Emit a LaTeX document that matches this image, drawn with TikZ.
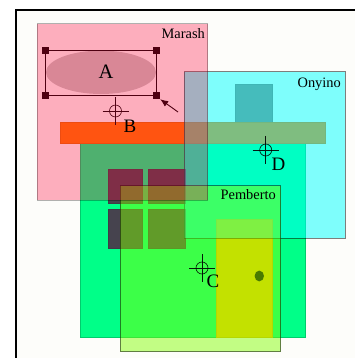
\documentclass[tikz,border=0pt]{standalone}
\usepackage{fontspec}
\setmainfont{Liberation Serif}
\usetikzlibrary{arrows.meta}

\definecolor{canvas}{RGB}{253,253,250}
\definecolor{wall}{RGB}{0,255,136}
\definecolor{roof}{RGB}{255,123,0}
\definecolor{chimney}{RGB}{140,122,122}
\definecolor{pane}{RGB}{70,67,78}
\definecolor{door}{RGB}{255,200,0}
\definecolor{knob}{RGB}{25,5,0}
\definecolor{blob}{RGB}{200,196,193}
\definecolor{marash}{RGB}{255,0,56}
\definecolor{onyino}{RGB}{0,255,255}
\definecolor{pemberto}{RGB}{128,255,0}

\tikzset{
  part/.style={line width=0.6pt},
  layer/.style={line width=1pt, draw=black, draw opacity=0.5},
  handle/.style={fill=black, minimum size=7pt, inner sep=0pt},
  tag/.style={inner sep=0pt, font=\fontsize{14.4}{16}\selectfont},
  letter/.style={inner sep=0pt, font=\fontsize{19}{22}\selectfont},
  target/.pic={
    \draw[line width=0.65pt] (0,0) circle (6pt);
    \draw[line width=0.65pt] (-13,0) -- (13,0) (0,-14) -- (0,14);
  }
}

\begin{document}
\begin{tikzpicture}[x=1pt, y=-1pt]
  \useasboundingbox (0,0) rectangle (355,358);
  \clip (0,0) rectangle (355,358);
  % canvas
  \filldraw[fill=canvas, draw=black, line width=1.5pt] (16,10) rectangle (380,380);

  % house
  \filldraw[part, fill=wall, draw=wall!80!black] (80.7,143.3) rectangle (305,337.3);
  \filldraw[part, fill=chimney, draw=chimney!90!black] (235.7,84.3) rectangle (272.3,122.3);
  \filldraw[part, fill=roof, draw=roof!90!black] (60,122.3) rectangle (325,143.3);
  \filldraw[part, fill=pane, draw=pane!90!black] (108.3,169.3) rectangle (142.3,203.3);
  \filldraw[part, fill=pane, draw=pane!90!black] (148.3,169.3) rectangle (185,203.3);
  \filldraw[part, fill=pane, draw=pane!90!black] (108.3,209.3) rectangle (142.3,248.3);
  \filldraw[part, fill=pane, draw=pane!90!black] (148.3,209.3) rectangle (185,248.3);
  \filldraw[part, fill=door, draw=door!90!black] (216.7,219.3) rectangle (272.7,337.3);
  \fill[knob] (259.3,276) ellipse [x radius=4.7pt, y radius=5.4pt];

  % layer Onyino
  \filldraw[layer, fill=onyino, fill opacity=0.5] (184,72) rectangle (345,238.3);
  \pic[opacity=0.9] at (265.7,150) {target};

  % layer Pemberto
  \filldraw[layer, fill=pemberto, fill opacity=0.47] (120,185.7) rectangle (280.7,351.7);
  \pic[opacity=0.9] at (202,268) {target};

  % selection inside Marash
  \fill[blob] (101,72.3) ellipse [x radius=55pt, y radius=21.7pt];
  \node[handle] (h1) at (45.3,50.5) {};
  \node[handle] (h2) at (156.5,50.5) {};
  \node[handle] (h3) at (156.5,95.5) {};
  \node[handle] (h4) at (45.3,95.5) {};
  \draw[line width=0.8pt] (h1.center) -- (h2.center) -- (h3.center) -- (h4.center) -- cycle;
  \coordinate (grab) at (178,112);
  \draw[line width=0.9pt, -{Latex[length=8pt, width=6.5pt]}] (grab) -- (h3.south east);
  \pic at (115.5,111) {target};

  % layer Marash
  \filldraw[layer, draw opacity=0.3, fill=marash, fill opacity=0.31] (37,24) rectangle (207.7,200);

  % labels
  \node[letter, font=\fontsize{20.5}{24}\selectfont] (A) at (106,72) {A};
  \node[letter] (B) at (130,126) {B};
  \node[letter] (C) at (213,281) {C};
  \node[letter] (D) at (278.5,164) {D};
  \node[tag, anchor=base east] (mar) at (205,38.5) {Marash};
  \node[tag, anchor=base east] (ony) at (341,87.5) {Onyino};
  \node[tag, anchor=base east] (pem) at (276,199) {Pemberto};
\end{tikzpicture}
\end{document}
